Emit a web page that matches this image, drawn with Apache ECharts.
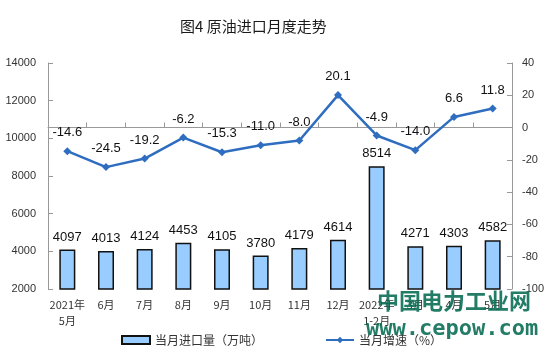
<!DOCTYPE html>
<html><head><meta charset="utf-8">
<script src="https://cdn.jsdelivr.net/npm/echarts@6/dist/echarts.min.js"></script>
<style>html,body{margin:0;padding:0;background:#fff}#c{width:554px;height:357px}</style>
</head><body><div id="c"></div>
<script>
const categories = ["2021年\n5月","6月","7月","8月","9月","10月","11月","12月","2022年\n1-2月","3月","4月","5月"];
const imports = [4097,4013,4124,4453,4105,3780,4179,4614,8514,4271,4303,4582];
const growth = [-14.6,-24.5,-19.2,-6.2,-15.3,-11.0,-8.0,20.1,-4.9,-14.0,6.6,11.8];
const leftTicks = [2000,14000,2000];
const rightTicks = [-100,40,20];

const chart = echarts.init(document.getElementById('c'));
chart.setOption({
  animation:false,
  title:{text:'图4 原油进口月度走势',left:175,top:14,textStyle:{fontSize:15,fontWeight:'normal',color:'#1a1a1a',fontFamily:'Noto Sans CJK SC'}},
  grid:{left:48,right:42,top:63,bottom:68},
  legend:{bottom:6,left:116,itemGap:62,itemWidth:28,itemHeight:8,textStyle:{fontSize:12,color:'#333',fontFamily:'Noto Sans CJK SC'},
    data:[{name:'当月进口量（万吨）',icon:'rect'},{name:'当月增速（%）'}]},
  xAxis:{type:'category',data:categories,
    axisLine:{lineStyle:{color:'#999'}},axisTick:{show:true,inside:true,lineStyle:{color:'#999'}},
    axisLabel:{fontSize:11,color:'#333',interval:0,lineHeight:16,margin:8,fontFamily:'Noto Sans CJK SC'}},
  yAxis:[
    {type:'value',min:leftTicks[0],max:leftTicks[1],interval:leftTicks[2],
     axisLine:{show:true,lineStyle:{color:'#999'}},axisTick:{show:true,inside:true,lineStyle:{color:'#999'}},
     splitLine:{show:false},axisLabel:{fontSize:11,color:'#333',margin:12,fontFamily:'Arial',formatter:v=>String(v)}},
    {type:'value',min:rightTicks[0],max:rightTicks[1],interval:rightTicks[2],position:'right',
     axisLine:{show:true,lineStyle:{color:'#999'}},axisTick:{show:true,inside:true,lineStyle:{color:'#999'}},
     splitLine:{show:false},axisLabel:{fontSize:11,color:'#333',margin:10,fontFamily:'Arial',formatter:v=>String(v)}}
  ],
  series:[
    {name:'当月进口量（万吨）',type:'bar',data:imports,barWidth:16,yAxisIndex:0,
     itemStyle:{color:'#99CCFF',borderColor:'#111',borderWidth:1.5},
     label:{show:true,position:'top',distance:6,fontSize:13,color:'#111',fontFamily:'Arial'}},
    {name:'当月增速（%）',type:'line',data:growth,yAxisIndex:1,symbol:'diamond',symbolSize:8,
     lineStyle:{color:'#2E6DBF',width:2.5},itemStyle:{color:'#2E6DBF'},
     label:{show:true,position:'top',distance:8,fontSize:13,color:'#111',fontFamily:'Arial',
       formatter:p=>p.value.toFixed(1)}}
  ],
  graphic:[
    {type:'text',x:377,y:301,z:100,style:{text:'中国电力工业网',fontSize:22,fontWeight:'bold',fill:'rgba(10,110,85,0.9)',fontFamily:'Noto Sans CJK SC',verticalAlign:'middle'}},
    {type:'text',x:366,y:329,z:100,style:{text:'www.cepow.com',fontSize:22,fontWeight:'bold',fill:'rgba(10,110,85,0.9)',fontFamily:'DejaVu Sans Mono',verticalAlign:'middle'}}
  ]
});
</script></body></html>
